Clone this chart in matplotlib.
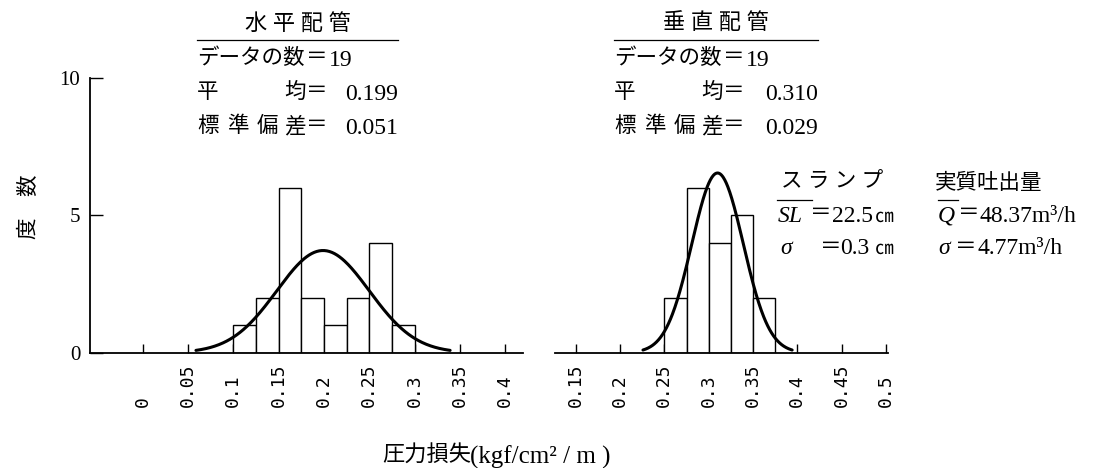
import numpy as np
import matplotlib
matplotlib.use("Agg")
import matplotlib.pyplot as plt
from matplotlib.lines import Line2D

plt.rcParams['font.family'] = ['Liberation Serif', 'Noto Sans CJK JP', 'DejaVu Sans']

# ---------------- data ----------------
n_samples = 19
# horizontal piping (水平配管)
h_edges = [0.100, 0.125, 0.150, 0.175, 0.200, 0.225, 0.250, 0.275, 0.300]
h_counts = [1, 2, 6, 2, 1, 2, 4, 1]
h_mean, h_sd = 0.199, 0.051
h_ticks = [0, 0.05, 0.1, 0.15, 0.2, 0.25, 0.3, 0.35, 0.4]
h_ticklabels = ["0", "0.05", "0.1", "0.15", "0.2", "0.25", "0.3", "0.35", "0.4"]
# vertical piping (垂直配管)
v_edges = [0.250, 0.275, 0.300, 0.325, 0.350, 0.375]
v_counts = [2, 6, 4, 5, 2]
v_mean, v_sd = 0.310, 0.029
v_ticks = [0.15, 0.2, 0.25, 0.3, 0.35, 0.4, 0.45, 0.5]
v_ticklabels = ["0.15", "0.2", "0.25", "0.3", "0.35", "0.4", "0.45", "0.5"]
y_ticks = [0, 5, 10]

# ---------------- figure ----------------
W, H = 1096, 468
fig = plt.figure(figsize=(W / 100, H / 100), dpi=100)
fig.patch.set_facecolor('white')


def rect(l, t, r, b):
    return [l / W, 1 - b / H, (r - l) / W, (b - t) / H]


def fx(x):
    return x / W


def fy(y):
    return 1 - y / H


axL = fig.add_axes(rect(90, 77.7, 523, 352.7))
axR = fig.add_axes(rect(555, 77.7, 888, 352.7))
axL.set_xlim(-0.0582, 0.4197)
axR.set_xlim(0.1267, 0.5022)

tick_font = dict(family='DejaVu Sans Mono', size=13)


def draw_panel(ax, edges, counts, mean, sd, span, ticks, labels, show_y):
    edges = np.asarray(edges)
    widths = np.diff(edges)
    ax.bar(edges[:-1], counts, width=widths, align='edge', facecolor='white',
           edgecolor='black', linewidth=1.0, zorder=2)
    bw = widths[0]
    xs = np.linspace(mean - span * sd, mean + span * sd, 300)
    ys = n_samples * bw * np.exp(-0.5 * ((xs - mean) / sd) ** 2) / (sd * np.sqrt(2 * np.pi))
    ax.plot(xs, ys, color='black', linewidth=2.2, zorder=3, solid_capstyle='round')
    ax.set_ylim(0, 10)
    for s in ['top', 'right']:
        ax.spines[s].set_visible(False)
    ax.spines['bottom'].set_linewidth(1.3)
    ax.spines['left'].set_linewidth(1.3)
    ax.set_xticks(ticks)
    ax.set_xticklabels(labels, rotation=90, va='bottom', ha='center', **tick_font)
    ax.tick_params(axis='x', direction='in', length=6.5, width=1.0, pad=39)
    if show_y:
        ax.set_yticks(y_ticks)
        ax.set_yticklabels([str(t) for t in y_ticks], family='Liberation Serif', size=15)
        ax.tick_params(axis='y', direction='in', length=9, width=1.0, pad=7)
    else:
        ax.spines['left'].set_visible(False)
        ax.set_yticks([])
    ax.set_facecolor('none')


draw_panel(axL, h_edges, h_counts, h_mean, h_sd, 2.75, h_ticks, h_ticklabels, True)
draw_panel(axR, v_edges, v_counts, v_mean, v_sd, 2.9, v_ticks, v_ticklabels, False)

JFS = 15.5   # Japanese text size
NFS = 17     # numeric text size


def T(x, y, s, ha='left', size=JFS, **kw):
    fig.text(fx(x), fy(y), s, ha=ha, va='center', size=size, **kw)


def hline(x0, x1, y, lw=0.9):
    fig.add_artist(Line2D([fx(x0), fx(x1)], [fy(y), fy(y)], color='black',
                          linewidth=lw, transform=fig.transFigure))


def stats_block(title, x_hdr, x0, x_line_end, kanji_x, eq_x, val_right, mean, sd):
    T(x_hdr, 24, title, ha='center', size=16)
    hline(x0, x_line_end, 40)
    T(x0, 59, "データの数")
    T(eq_x, 59, "＝")
    T(eq_x + 23, 60, str(n_samples), size=NFS)
    T(x0, 93, "平")
    T(kanji_x[3], 93, "均")
    T(eq_x, 93, "＝")
    T(val_right, 94, "{:.3f}".format(mean), ha='right', size=NFS)
    for x, ch in zip(kanji_x, "標準偏差"):
        T(x, 127, ch)
    T(eq_x, 127, "＝")
    T(val_right, 128, "{:.3f}".format(sd), ha='right', size=NFS)


stats_block("水 平 配 管", 297.5, 197, 398, [197, 227, 257, 284], 306, 398, h_mean, h_sd)
stats_block("垂 直 配 管", 716, 614, 818, [614, 644, 674, 701], 723, 818, v_mean, v_sd)

# slump / discharge notes
T(781, 183, "ス ラ ン プ")
T(778, 216, "SL", size=NFS, style='italic')
hline(777, 812, 200)
T(810, 215, "＝")
T(832, 216, "22.5", size=NFS)
T(875, 217, "㎝", size=13.5)
T(780, 248, "σ", size=NFS, style='italic')
T(820, 248, "＝")
T(840, 248, "0.3", size=NFS)
T(875, 249, "㎝", size=13.5)

T(935, 184, "実質吐出量")
T(938, 216, "Q", size=NFS, style='italic')
hline(938, 958, 200)
T(958, 215, "＝")
T(980, 216, "48.37m³/h", size=NFS)
T(938, 248, "σ", size=NFS, style='italic')
T(955, 248, "＝")
T(977, 248, "4.77m³/h", size=NFS)

# axis labels
fig.text(fx(30), fy(207), "度　数", rotation=90, ha='center', va='center', size=JFS)
T(471, 456, "圧力損失", ha='right', size=16)
T(470, 457, "(kgf/cm² / m )", size=18)

fig.savefig("out.png", dpi=100, facecolor='white')
